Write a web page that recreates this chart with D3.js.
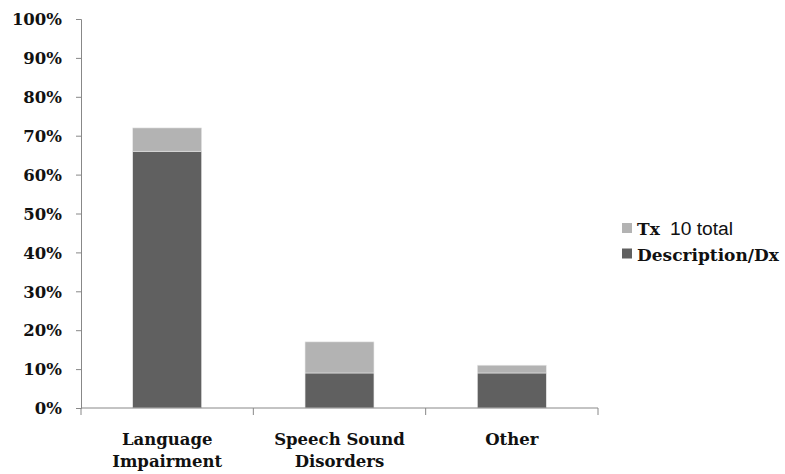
<!DOCTYPE html>
<html>
<head>
<meta charset="utf-8">
<script src="https://cdn.jsdelivr.net/npm/d3@7/dist/d3.min.js"></script>
<style>
  html, body { margin: 0; padding: 0; background: #fff; }
  svg { display: block; }
  .lbl { font-family: "DejaVu Serif", "Liberation Serif", serif; font-weight: bold; fill: #111; }
</style>
</head>
<body>
<svg id="chart" width="785" height="474"></svg>
<script>
// Categories and stacked series values (percent)
const categories = [["Language", "Impairment"], ["Speech Sound", "Disorders"], ["Other"]];
const descriptionDx = [66, 9, 9];
const tx10Total = [6, 8, 2];
const yTicks = [0, 10, 20, 30, 40, 50, 60, 70, 80, 90, 100];
const seriesNames = ["Description/Dx", "Tx 10 total"];

const svg = d3.select("#chart");
const margin = { left: 81, right: 187, top: 19, bottom: 66 };
const W = 785, H = 474;

const x = d3.scaleBand()
  .domain(d3.range(categories.length))
  .range([margin.left, W - margin.right])
  .paddingInner(0.6).paddingOuter(0.3);
const xOuter = d3.scaleBand()
  .domain(d3.range(categories.length))
  .range([margin.left, W - margin.right]);
const y = d3.scaleLinear().domain([0, 100]).range([H - margin.bottom, margin.top]);

const colors = ["#606060", "#b3b3b3"];
const rows = categories.map((c, i) => ({ i, dx: descriptionDx[i], tx: tx10Total[i] }));
const stack = d3.stack().keys(["dx", "tx"])(rows);

// Bars
svg.append("g").selectAll("g").data(stack).join("g")
  .attr("fill", (d, k) => colors[k])
  .selectAll("rect").data(d => d).join("rect")
  .attr("x", d => x(d.data.i))
  .attr("width", x.bandwidth())
  .attr("y", d => y(d[1]))
  .attr("height", d => y(d[0]) - y(d[1]))
  .attr("stroke", "#e8e8e8").attr("stroke-width", 0.6);

// Y axis
const yAxis = svg.append("g").attr("transform", `translate(${margin.left},0)`)
  .call(d3.axisLeft(y).tickValues(yTicks).tickSize(5).tickPadding(14).tickFormat(d => d + "%"));
yAxis.select(".domain").attr("stroke", "#888");
yAxis.selectAll(".tick line").attr("stroke", "#888");
yAxis.selectAll(".tick text").attr("class", "lbl").attr("font-size", 16.5).attr("dy", "0.35em");

// X axis line with category boundary ticks
const xg = svg.append("g");
xg.append("line")
  .attr("x1", margin.left).attr("x2", W - margin.right)
  .attr("y1", y(0)).attr("y2", y(0)).attr("stroke", "#888");
const bounds = d3.range(categories.length + 1).map(i =>
  i < categories.length ? xOuter(i) : xOuter(i - 1) + xOuter.bandwidth());
xg.selectAll("line.b").data(bounds).join("line").attr("class", "b")
  .attr("x1", d => d).attr("x2", d => d)
  .attr("y1", y(0)).attr("y2", y(0) + 7).attr("stroke", "#888");

// Category labels
const cl = svg.append("g").selectAll("text").data(categories).join("text")
  .attr("class", "lbl").attr("font-size", 16.5).attr("text-anchor", "middle")
  .attr("x", (d, i) => x(i) + x.bandwidth() / 2)
  .attr("y", 445);
cl.selectAll("tspan").data(d => d).join("tspan")
  .attr("x", function() { return this.parentNode.getAttribute("x"); })
  .attr("dy", (d, j) => j === 0 ? 0 : 22)
  .text(d => d);

// Legend
const legend = svg.append("g");
const legendItems = [
  { name: seriesNames[1], color: colors[1], y: 228, base: 235 },
  { name: seriesNames[0], color: colors[0], y: 253.5, base: 261 }
];
legendItems.forEach(it => {
  legend.append("rect").attr("x", 622).attr("y", it.y - 5).attr("width", 10).attr("height", 10).attr("fill", it.color);
  const t = legend.append("text").attr("x", 637).attr("y", it.base);
  if (it.name.startsWith("Tx")) {
    t.append("tspan").attr("class", "lbl").attr("font-size", 17).text("Tx");
    t.append("tspan").attr("font-family", "'Liberation Sans Narrow', 'Liberation Sans', Arial, sans-serif")
      .attr("font-size", 18).attr("fill", "#111").attr("x", 670)
      .attr("textLength", 63).attr("lengthAdjust", "spacingAndGlyphs").text("10 total");
  } else {
    t.attr("class", "lbl").attr("font-size", 17).text(it.name);
  }
});
</script>
</body>
</html>
